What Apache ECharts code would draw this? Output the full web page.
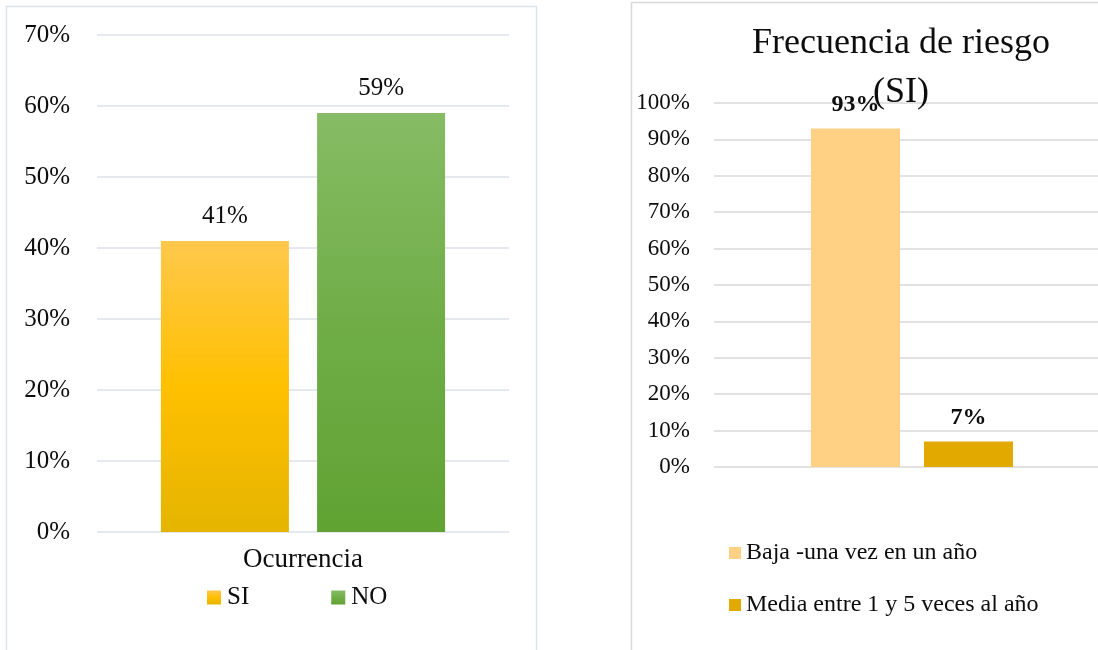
<!DOCTYPE html>
<html>
<head>
<meta charset="utf-8">
<style>
  html, body { margin: 0; padding: 0; background: #ffffff; }
  #chart { width: 1098px; height: 650px; }
</style>
<script src="https://cdn.jsdelivr.net/npm/echarts@6/dist/echarts.min.js"></script>
</head>
<body>
<div id="chart"></div>
<script>
// Ocurrencia (left chart)
const occCategories = ['Ocurrencia'];
const occSeriesNames = ['SI', 'NO'];
const occValues = [[41], [59]];
const occTicks = { min: 0, max: 70, interval: 10 };

// Frecuencia de riesgo (SI) (right chart)
const freqTitle = 'Frecuencia de riesgo\n(SI)';
const freqCategories = [''];
const freqSeriesNames = ['Baja -una vez en un año', 'Media entre 1 y 5 veces al año'];
const freqValues = [[93], [7]];
const freqTicks = { min: 0, max: 100, interval: 10 };

const FONT = "'Liberation Serif', 'Times New Roman', serif";
const TEXT = '#0d0d0d';

function vgrad(top, mid, bottom) {
  return new echarts.graphic.LinearGradient(0, 0, 0, 1, [
    { offset: 0, color: top },
    { offset: 0.5, color: mid },
    { offset: 1, color: bottom }
  ]);
}

const occColors = [
  vgrad('#ffc84c', '#ffc000', '#e5b400'),
  vgrad('#86bc65', '#70ad47', '#61a233')
];
const freqColors = ['#ffd185', '#e2aa00'];

const chart = echarts.init(document.getElementById('chart'), null, { renderer: 'canvas' });

const series = [];
occSeriesNames.forEach((name, i) => {
  series.push({
    name,
    type: 'bar',
    xAxisIndex: 0,
    yAxisIndex: 0,
    data: occValues[i],
    barWidth: 128,
    barGap: '22%',
    itemStyle: { color: occColors[i] },
    label: {
      show: true,
      position: 'top',
      distance: 12,
      formatter: '{c}%',
      fontFamily: FONT,
      fontSize: 25,
      color: TEXT
    }
  });
});
freqSeriesNames.forEach((name, i) => {
  series.push({
    name,
    type: 'bar',
    xAxisIndex: 1,
    yAxisIndex: 1,
    data: freqValues[i],
    barWidth: 89,
    barGap: '27%',
    itemStyle: { color: freqColors[i] },
    label: {
      show: true,
      position: 'top',
      distance: 12,
      formatter: '{c}%',
      fontFamily: FONT,
      fontSize: 24,
      fontWeight: 'bold',
      color: TEXT
    }
  });
});

chart.setOption({
  animation: false,
  backgroundColor: '#ffffff',
  textStyle: { fontFamily: FONT },
  title: {
    text: freqTitle,
    left: 901,
    top: 19,
    padding: 0,
    textAlign: 'center',
    textStyle: {
      fontFamily: FONT,
      fontSize: 36,
      fontWeight: 'normal',
      lineHeight: 49,
      color: TEXT
    }
  },
  graphic: [
    {
      type: 'rect',
      silent: true,
      z: -10,
      shape: { x: 6.5, y: 6.5, width: 530, height: 660 },
      style: { fill: 'none', stroke: '#dde3ea', lineWidth: 1.5 }
    },
    {
      type: 'rect',
      silent: true,
      z: -10,
      shape: { x: 631.5, y: 2.5, width: 520, height: 660 },
      style: { fill: 'none', stroke: '#d9d9d9', lineWidth: 1.5 }
    }
  ],
  legend: [
    {
      data: occSeriesNames,
      left: 207,
      top: 585,
      padding: 0,
      itemWidth: 14,
      itemHeight: 14,
      itemGap: 82,
      icon: 'rect',
      textStyle: { fontFamily: FONT, fontSize: 25, color: TEXT, padding: [0, 0, 0, 1] }
    },
    {
      data: freqSeriesNames,
      orient: 'vertical',
      left: 729,
      top: 541,
      padding: 0,
      itemWidth: 12,
      itemHeight: 12,
      itemGap: 28,
      icon: 'rect',
      textStyle: { fontFamily: FONT, fontSize: 24, color: TEXT }
    }
  ],
  grid: [
    { left: 97, right: 589, top: 35, bottom: 118, outerBoundsMode: 'none' },
    { left: 714, right: -12, top: 103, bottom: 183, outerBoundsMode: 'none' }
  ],
  xAxis: [
    {
      type: 'category',
      gridIndex: 0,
      data: occCategories,
      axisLine: { show: false },
      axisTick: { show: false },
      axisLabel: { fontFamily: FONT, fontSize: 27, color: TEXT, margin: 14 }
    },
    {
      type: 'category',
      gridIndex: 1,
      data: freqCategories,
      axisLine: { show: false },
      axisTick: { show: false },
      axisLabel: { show: false }
    }
  ],
  yAxis: [
    {
      type: 'value',
      gridIndex: 0,
      min: occTicks.min,
      max: occTicks.max,
      interval: occTicks.interval,
      axisLine: { show: false },
      axisTick: { show: false },
      axisLabel: { formatter: '{value}%', fontFamily: FONT, fontSize: 25, color: TEXT, margin: 27 },
      splitLine: { lineStyle: { color: '#dde2ea', width: 1.5 } }
    },
    {
      type: 'value',
      gridIndex: 1,
      min: freqTicks.min,
      max: freqTicks.max,
      interval: freqTicks.interval,
      axisLine: { show: false },
      axisTick: { show: false },
      axisLabel: { formatter: '{value}%', fontFamily: FONT, fontSize: 23, color: TEXT, margin: 24 },
      splitLine: { lineStyle: { color: '#d9d9d9', width: 1.5 } }
    }
  ],
  series
});
</script>
</body>
</html>
